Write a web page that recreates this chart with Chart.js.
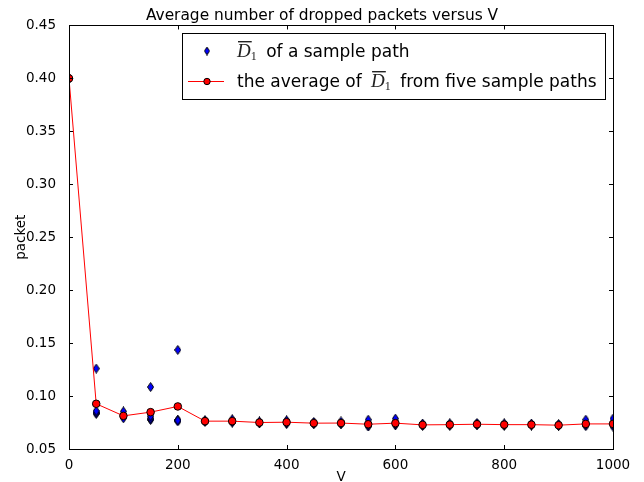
<!DOCTYPE html>
<html>
<head>
<meta charset="utf-8">
<script src="https://cdn.jsdelivr.net/npm/chart.js@4.4.0/dist/chart.umd.min.js"></script>
<style>
  body { margin: 0; background: #fff; }
  canvas { display: block; }
</style>
</head>
<body>
<canvas id="chartContainer" width="644" height="482"></canvas>
<script>
// V values on the x axis
const vValues = [0, 50, 100, 150, 200, 250, 300, 350, 400, 450, 500, 550, 600, 650, 700, 750, 800, 850, 900, 950, 1000];

// D1 bar of each of the five sample paths
const path1 = [0.400, 0.1260, 0.0855, 0.1085, 0.1436, 0.0770, 0.0780, 0.0760, 0.0770, 0.0755, 0.0760, 0.0777, 0.0787, 0.0740, 0.0742, 0.0745, 0.0742, 0.0740, 0.0735, 0.0777, 0.0787];
const path2 = [0.400, 0.0860, 0.0790, 0.0810, 0.0770, 0.0765, 0.0770, 0.0755, 0.0765, 0.0750, 0.0750, 0.0735, 0.0745, 0.0735, 0.0735, 0.0740, 0.0735, 0.0735, 0.0730, 0.0735, 0.0735];
const path3 = [0.400, 0.0845, 0.0800, 0.0790, 0.0770, 0.0760, 0.0760, 0.0748, 0.0750, 0.0742, 0.0740, 0.0730, 0.0735, 0.0725, 0.0728, 0.0730, 0.0728, 0.0728, 0.0722, 0.0725, 0.0725];
const path4 = [0.400, 0.0840, 0.0810, 0.0780, 0.0760, 0.0757, 0.0755, 0.0745, 0.0745, 0.0738, 0.0737, 0.0715, 0.0730, 0.0722, 0.0725, 0.0728, 0.0725, 0.0726, 0.0720, 0.0716, 0.0712];
const path5 = [0.400, 0.0832, 0.0810, 0.0775, 0.0774, 0.0763, 0.0750, 0.0742, 0.0735, 0.0735, 0.0738, 0.0713, 0.0723, 0.0718, 0.0720, 0.0727, 0.0720, 0.0721, 0.0718, 0.0732, 0.0726];

// average over the five paths (red line)
const averageValues = [0.400, 0.0927, 0.0813, 0.0848, 0.0902, 0.0763, 0.0763, 0.0750, 0.0753, 0.0744, 0.0745, 0.0734, 0.0744, 0.0728, 0.0730, 0.0734, 0.0730, 0.0730, 0.0725, 0.0737, 0.0737];

const xTicks = [0, 200, 400, 600, 800, 1000];
const yTicks = [0.05, 0.10, 0.15, 0.20, 0.25, 0.30, 0.35, 0.40, 0.45];

const FONT = 'DejaVu Sans';

// thin diamond marker like matplotlib 'd'
function thinDiamond(w, h) {
  const c = document.createElement('canvas');
  c.width = w; c.height = h;
  const g = c.getContext('2d');
  g.beginPath();
  g.moveTo(w / 2, 0.5);
  g.lineTo(w - 0.5, h / 2);
  g.lineTo(w / 2, h - 0.5);
  g.lineTo(0.5, h / 2);
  g.closePath();
  g.fillStyle = '#0000ff';
  g.fill();
  g.strokeStyle = '#000';
  g.lineWidth = 1;
  g.stroke();
  return c;
}
const diamond = thinDiamond(7, 10);
const smallDiamond = thinDiamond(6, 9);

const toPoints = arr => arr.map((v, i) => ({ x: vValues[i], y: v }));

const paths = [path1, path2, path3, path4, path5];
const datasets = paths.map(p => ({
  data: toPoints(p),
  pointStyle: diamond,
  showLine: false,
  order: 1,
  clip: { left: 0, top: 0, right: 0, bottom: 0 }
}));
datasets.push({
  data: toPoints(averageValues),
  showLine: true,
  borderColor: '#ff0000',
  borderWidth: 1,
  pointStyle: 'circle',
  pointRadius: 3.8,
  pointBorderWidth: 1,
  pointBackgroundColor: '#ff0000',
  pointBorderColor: '#000',
  order: 0,
  clip: { left: 0, top: 0, right: 0, bottom: 0 }
});

// box + inward ticks on all four sides
const frameTicks = {
  id: 'frameTicks',
  afterDatasetsDraw(chart) {
    const { ctx, chartArea: a, scales: { x, y } } = chart;
    ctx.save();
    ctx.strokeStyle = '#000';
    ctx.lineWidth = 1;
    ctx.strokeRect(Math.round(a.left) + 0.5, Math.round(a.top) + 0.5,
      Math.round(a.right) - Math.round(a.left), Math.round(a.bottom) - Math.round(a.top));
    const len = 4;
    ctx.beginPath();
    xTicks.forEach(v => {
      const px = Math.round(x.getPixelForValue(v)) + 0.5;
      ctx.moveTo(px, a.bottom); ctx.lineTo(px, a.bottom - len);
      ctx.moveTo(px, a.top); ctx.lineTo(px, a.top + len);
    });
    yTicks.forEach(v => {
      const py = Math.round(y.getPixelForValue(v)) + 0.5;
      ctx.moveTo(a.left, py); ctx.lineTo(a.left + len, py);
      ctx.moveTo(a.right, py); ctx.lineTo(a.right - len, py);
    });
    ctx.stroke();
    ctx.restore();
  }
};

// draws an overlined italic D with subscript 1, returns its width
function drawDBar(ctx, x, base) {
  ctx.save();
  ctx.fillStyle = '#222';
  ctx.font = 'italic 19px "Liberation Serif"';
  const dw = ctx.measureText('D').width;
  ctx.fillText('D', x, base);
  ctx.fillRect(x + 1, base - 16, dw, 1.4);
  ctx.font = '12px "Liberation Serif"';
  ctx.fillText('1', x + dw, base + 3);
  const w = dw + ctx.measureText('1').width;
  ctx.restore();
  return w;
}
function dBarWidth(ctx) {
  ctx.save();
  ctx.font = 'italic 19px "Liberation Serif"';
  const dw = ctx.measureText('D').width;
  ctx.font = '12px "Liberation Serif"';
  const w = dw + ctx.measureText('1').width;
  ctx.restore();
  return w;
}

const legendBox = {
  id: 'legendBox',
  afterDraw(chart) {
    const { ctx, chartArea: a } = chart;
    const textFont = '17px "' + FONT + '"';
    const gap = 4;
    ctx.save();
    ctx.font = textFont;
    const row1 = dBarWidth(ctx) + gap + ctx.measureText(' of a sample path').width;
    const row2 = ctx.measureText('the average of ').width + gap + dBarWidth(ctx) + gap +
      ctx.measureText(' from five sample paths').width;
    const right = Math.round(a.right) - 8;
    const top = Math.round(a.top) + 8;
    const width = Math.round(55 + Math.max(row1, row2) + 8);
    const left = right - width;
    const height = 66;
    ctx.fillStyle = '#fff';
    ctx.fillRect(left, top, width, height);
    ctx.strokeStyle = '#000';
    ctx.lineWidth = 1;
    ctx.strokeRect(left + 0.5, top + 0.5, width, height);

    // row 1: blue diamond
    ctx.drawImage(smallDiamond, left + 25 - 3, top + 18 - 4.5);
    let tx = left + 55;
    const b1 = top + 24;
    tx += drawDBar(ctx, tx, b1) + gap;
    ctx.font = textFont;
    ctx.fillStyle = '#000';
    ctx.fillText(' of a sample path', tx, b1);

    // row 2: red line with circle
    const cy = top + 48;
    ctx.beginPath();
    ctx.strokeStyle = '#ff0000';
    ctx.moveTo(left + 6, cy + 0.5); ctx.lineTo(left + 42, cy + 0.5);
    ctx.stroke();
    ctx.beginPath();
    ctx.arc(left + 25, cy + 0.5, 3.2, 0, Math.PI * 2);
    ctx.fillStyle = '#ff0000';
    ctx.fill();
    ctx.strokeStyle = '#000';
    ctx.stroke();

    const b2 = top + 54;
    tx = left + 55;
    ctx.fillStyle = '#000';
    ctx.font = textFont;
    ctx.fillText('the average of ', tx, b2);
    tx += ctx.measureText('the average of ').width + gap;
    tx += drawDBar(ctx, tx, b2) + gap;
    ctx.font = textFont;
    ctx.fillStyle = '#000';
    ctx.fillText(' from five sample paths', tx, b2);
    ctx.restore();
  }
};

const ctx = document.getElementById('chartContainer').getContext('2d');
const chart = new Chart(ctx, {
  type: 'scatter',
  data: { datasets: datasets },
  plugins: [frameTicks, legendBox],
  options: {
    responsive: false,
    animation: false,
    events: [],
    layout: { padding: 0 },
    plugins: {
      legend: { display: false },
      tooltip: { enabled: false },
      title: {
        display: true,
        text: 'Average number of dropped packets versus V',
        color: '#000',
        font: { family: FONT, size: 15.4, weight: 'normal', lineHeight: 1.2 },
        padding: { top: 7, bottom: 0 }
      }
    },
    scales: {
      x: {
        type: 'linear',
        min: 0,
        max: 1000,
        afterBuildTicks: s => { s.ticks = xTicks.map(v => ({ value: v })); },
        afterFit: s => { s.height = 33; },
        grid: { display: false },
        border: { display: false },
        ticks: {
          color: '#000',
          padding: 0,
          maxRotation: 0,
          font: { family: FONT, size: 13.5 },
          callback: v => String(v)
        },
        title: {
          display: true,
          text: 'V',
          color: '#000',
          font: { family: FONT, size: 13.5, lineHeight: 1 },
          padding: { top: 0, bottom: -2 }
        }
      },
      y: {
        type: 'linear',
        min: 0.05,
        max: 0.45,
        afterBuildTicks: s => { s.ticks = yTicks.map(v => ({ value: v })); },
        afterFit: s => { s.width = 69; },
        grid: { display: false },
        border: { display: false },
        ticks: {
          color: '#000',
          padding: 5,
          font: { family: FONT, size: 13.5 },
          callback: v => v.toFixed(2)
        },
        title: {
          display: true,
          text: 'packet',
          color: '#000',
          font: { family: FONT, size: 13.5, lineHeight: 1.2 },
          padding: { top: 13, bottom: 0 }
        }
      },
      // empty right-hand spacer so the plot ends where the reference does
      yRight: {
        type: 'linear',
        position: 'right',
        min: 0.05,
        max: 0.45,
        afterFit: s => { s.width = 31; },
        grid: { display: false },
        border: { display: false },
        ticks: { display: false }
      }
    }
  }
});
</script>
</body>
</html>
